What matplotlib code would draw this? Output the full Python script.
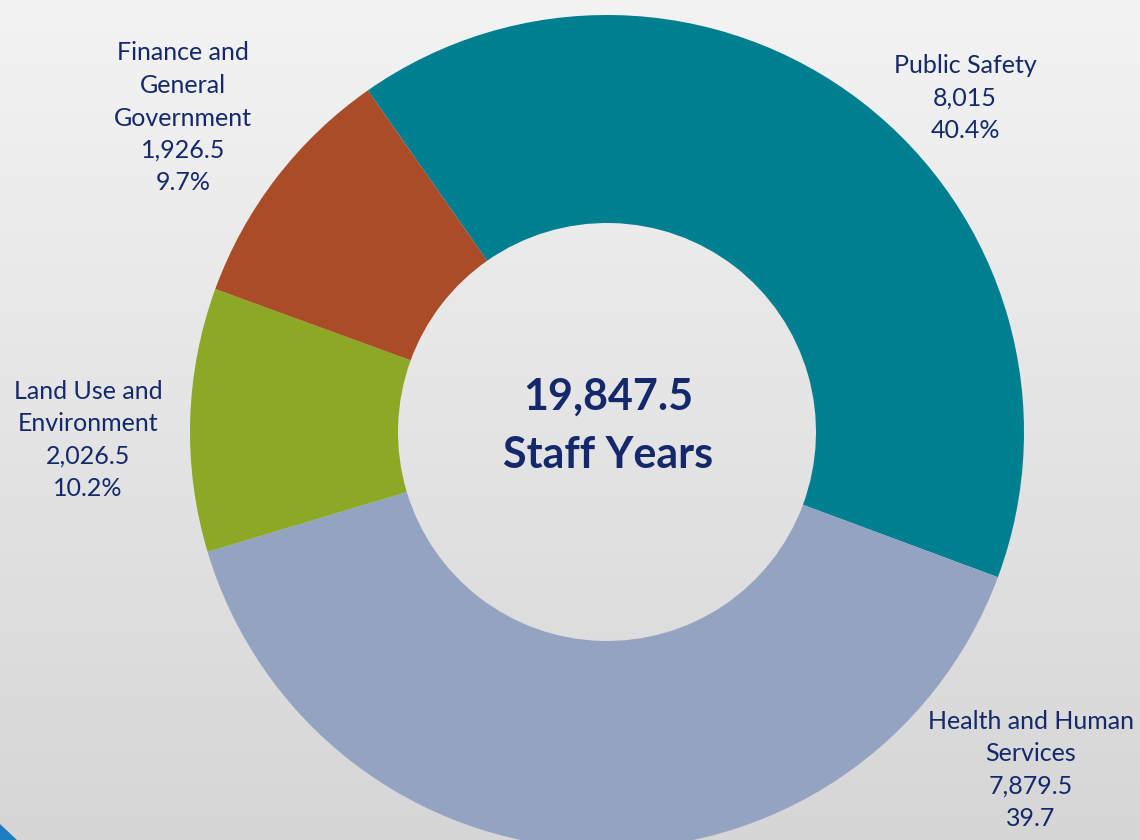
import numpy as np
import matplotlib.pyplot as plt

# data
groups = ['Public Safety', 'Health and Human\nServices', 'Land Use and\nEnvironment',
          'Finance and\nGeneral\nGovernment']
staff_years = [8015, 7879.5, 2026.5, 1926.5]
value_text = ['8,015', '7,879.5', '2,026.5', '1,926.5']
pct_text = ['40.4%', '39.7', '10.2%', '9.7%']
total_text = '19,847.5'

colors = ['#007F91', '#93A3C1', '#8CA824', '#A94C27']
navy = '#13296B'
plt.rcParams['font.family'] = ['Lato', 'DejaVu Sans']

fig = plt.figure(figsize=(11.4, 8.4), dpi=100)
ax = fig.add_axes([0, 0, 1, 1])

# background: light grey gradient, darker towards the bottom
grad = np.linspace(0, 1, 256).reshape(-1, 1)
ax.imshow(grad, extent=[0, 1140, 0, 840], origin='lower', aspect='auto',
          cmap=plt.matplotlib.colors.LinearSegmentedColormap.from_list('bg', ['#D6D6D6', '#F3F3F3']),
          zorder=0)
ax.fill([0, 0, 17], [0, 16, 0], color='#1E7EC2', zorder=1, lw=0)

ax.pie(staff_years, colors=colors, startangle=125, counterclock=False,
       center=(607, 408), radius=417, frame=True,
       wedgeprops=dict(width=208, linewidth=0))
ax.set_xlim(0, 1140)
ax.set_ylim(0, 840)
ax.set_aspect('equal')
ax.axis('off')

# outside labels
label_pos = [(965, 840 - 98), (1031, 840 - 770), (88, 840 - 440), (183, 840 - 118)]
for name, v, p, (x, y) in zip(groups, value_text, pct_text, label_pos):
    ax.text(x, y, f'{name}\n{v}\n{p}', ha='center', va='center', fontsize=18,
            color=navy, linespacing=1.5, zorder=5)

ax.text(608, 840 - 397, total_text, ha='center', va='center', fontsize=31,
        fontweight='bold', color=navy, zorder=5)
ax.text(608, 840 - 455, 'Staff Years', ha='center', va='center', fontsize=31,
        fontweight='bold', color=navy, zorder=5)

plt.savefig('out.png', dpi=100)
